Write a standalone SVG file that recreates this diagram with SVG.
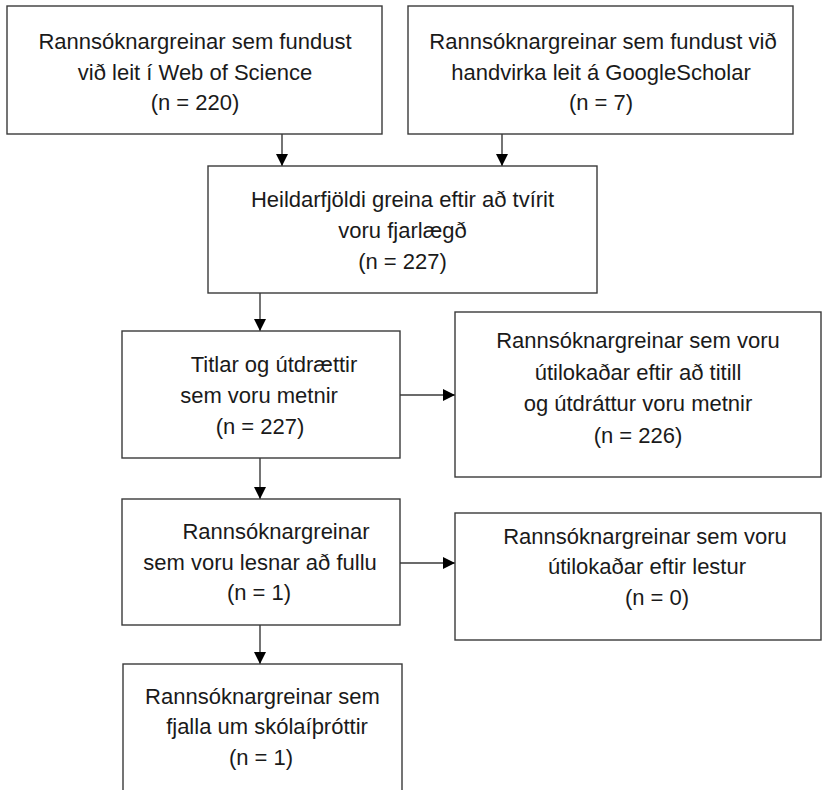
<svg xmlns="http://www.w3.org/2000/svg" width="832" height="790" viewBox="0 0 832 790">
<style>
.box{fill:#fff;stroke:#3a3a3a;stroke-width:1.4}
.t{font-family:"Liberation Sans",Arial,sans-serif;font-size:22px;fill:#1a1a1a;text-anchor:middle}
.c{stroke:#3a3a3a;stroke-width:1.4;fill:none;marker-end:url(#ah)}
</style>
<defs>
<marker id="ah" markerUnits="userSpaceOnUse" markerWidth="12" markerHeight="14" viewBox="0 0 12 14" refX="12" refY="6" orient="auto">
<path d="M0,0 L12,6 L0,12 Z" fill="#000"/>
</marker>
</defs>
<rect width="832" height="790" fill="#fff"/>
<g id="connectors">
<line class="c" x1="282" y1="134" x2="282" y2="166"/>
<line class="c" x1="502" y1="134" x2="502" y2="166"/>
<line class="c" x1="260" y1="293" x2="260" y2="331"/>
<line class="c" x1="400" y1="395" x2="455" y2="395"/>
<line class="c" x1="260" y1="458" x2="260" y2="499"/>
<line class="c" x1="400" y1="563" x2="455" y2="563"/>
<line class="c" x1="260" y1="625" x2="260" y2="664"/>
</g>
<g id="n1">
<rect class="box" x="7" y="6" width="375" height="128"/>
<text class="t" x="195" y="49">Rannsóknargreinar sem fundust</text>
<text class="t" x="195" y="80">við leit í Web of Science</text>
<text class="t" x="195" y="110">(n = 220)</text>
</g>
<g id="n2">
<rect class="box" x="408" y="6" width="385" height="128"/>
<text class="t" x="603" y="49">Rannsóknargreinar sem fundust við</text>
<text class="t" x="601" y="80">handvirka leit á GoogleScholar</text>
<text class="t" x="601" y="110">(n = 7)</text>
</g>
<g id="n3">
<rect class="box" x="208" y="166" width="389" height="127"/>
<text class="t" x="402.5" y="207">Heildarfjöldi greina eftir að tvírit</text>
<text class="t" x="402.5" y="238">voru fjarlægð</text>
<text class="t" x="402.5" y="269">(n = 227)</text>
</g>
<g id="n4">
<rect class="box" x="122" y="331" width="278" height="127"/>
<text class="t" x="274" y="372">Titlar og útdrættir</text>
<text class="t" x="259" y="403">sem voru metnir</text>
<text class="t" x="260" y="434">(n = 227)</text>
</g>
<g id="n5">
<rect class="box" x="455" y="312" width="366" height="165"/>
<text class="t" x="638" y="348">Rannsóknargreinar sem voru</text>
<text class="t" x="638" y="379.5">útilokaðar eftir að titill</text>
<text class="t" x="638" y="411">og útdráttur voru metnir</text>
<text class="t" x="638" y="442.5">(n = 226)</text>
</g>
<g id="n6">
<rect class="box" x="122" y="499" width="278" height="126"/>
<text class="t" x="276" y="539">Rannsóknargreinar</text>
<text class="t" x="260" y="570">sem voru lesnar að fullu</text>
<text class="t" x="259" y="600">(n = 1)</text>
</g>
<g id="n7">
<rect class="box" x="455" y="513" width="366" height="127"/>
<text class="t" x="645" y="544">Rannsóknargreinar sem voru</text>
<text class="t" x="647" y="574">útilokaðar eftir lestur</text>
<text class="t" x="657" y="605">(n = 0)</text>
</g>
<g id="n8">
<rect class="box" x="123" y="664" width="279" height="140"/>
<text class="t" x="262.5" y="704">Rannsóknargreinar sem</text>
<text class="t" x="267" y="734">fjalla um skólaíþróttir</text>
<text class="t" x="261" y="765">(n = 1)</text>
</g>
</svg>
